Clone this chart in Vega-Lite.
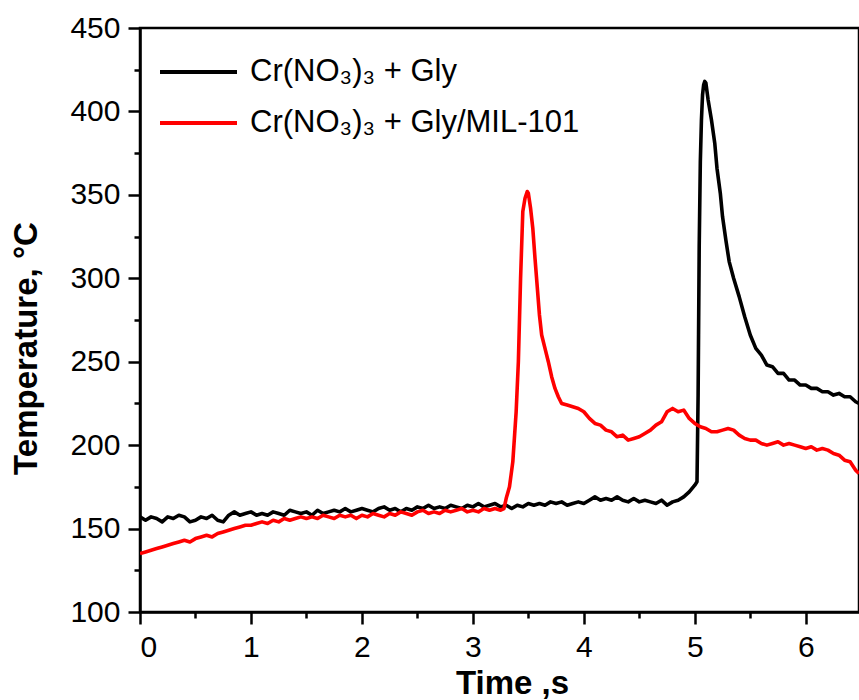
{
  "$schema": "https://vega.github.io/schema/vega-lite/v6.json",
  "width": 719,
  "height": 584,
  "autosize": "none",
  "padding": {"left": 140, "top": 28, "right": 0, "bottom": 88},
  "background": "white",
  "config": {
    "view": {"stroke": "black", "strokeWidth": 2.5},
    "font": "Liberation Sans"
  },
  "datasets": {
    "gly": [
      [0.00,157],[0.05,155],[0.10,157],[0.15,156],[0.20,154],[0.25,157],[0.30,156],[0.35,158],[0.40,157],[0.45,154],
      [0.50,155],[0.55,157],[0.60,156],[0.65,158],[0.70,155],[0.75,154],[0.80,158],[0.85,160],[0.90,158],[0.95,159],
      [1.00,160],[1.05,158],[1.10,159],[1.15,158],[1.20,160],[1.25,159],[1.30,158],[1.35,161],[1.40,160],[1.45,159],
      [1.50,160],[1.55,158],[1.60,161],[1.65,159],[1.70,160],[1.75,161],[1.80,160],[1.85,162],[1.90,160],[1.95,161],
      [2.00,162],[2.05,161],[2.10,160],[2.15,162],[2.20,163],[2.25,161],[2.30,162],[2.35,160],[2.40,162],[2.45,161],
      [2.50,163],[2.55,162],[2.60,164],[2.65,162],[2.70,163],[2.75,162],[2.80,164],[2.85,163],[2.90,162],[2.95,164],
      [3.00,163],[3.05,165],[3.10,163],[3.15,164],[3.20,165],[3.25,163],[3.30,164],[3.35,162],[3.40,164],[3.45,163],
      [3.50,165],[3.55,164],[3.60,165],[3.65,164],[3.70,166],[3.75,165],[3.80,166],[3.85,164],[3.90,165],[3.95,166],
      [4.00,165],[4.05,167],[4.10,169],[4.15,167],[4.20,168],[4.25,167],[4.30,169],[4.35,167],[4.40,166],[4.45,168],
      [4.50,166],[4.55,167],[4.60,166],[4.65,165],[4.70,167],[4.75,164],[4.80,166],[4.85,167],[4.90,169],[4.95,172],
      [5.00,176],[5.02,178],[5.03,230],[5.04,320],[5.05,370],[5.06,395],[5.07,410],[5.08,416],[5.09,418],[5.10,417],
      [5.12,407],[5.15,395],[5.18,381],[5.20,366],[5.23,351],[5.25,337],[5.28,323],[5.31,310],[5.35,300],[5.40,289],
      [5.45,277],[5.50,266],[5.55,258],[5.60,254],[5.65,248],[5.70,247],[5.75,243],[5.80,243],[5.85,239],[5.90,239],
      [5.95,236],[6.00,236],[6.05,234],[6.10,234],[6.15,232],[6.20,232],[6.25,230],[6.30,231],[6.35,229],[6.40,229],
      [6.45,226],[6.48,225]
    ],
    "mil": [
      [0.00,135],[0.05,136],[0.10,137],[0.15,138],[0.20,139],[0.25,140],[0.30,141],[0.35,142],[0.40,143],[0.45,142],
      [0.50,144],[0.55,145],[0.60,146],[0.65,145],[0.70,147],[0.75,148],[0.80,149],[0.85,150],[0.90,151],[0.95,152],
      [1.00,152],[1.05,153],[1.10,154],[1.15,153],[1.20,155],[1.25,154],[1.30,156],[1.35,155],[1.40,156],[1.45,157],
      [1.50,156],[1.55,157],[1.60,156],[1.65,158],[1.70,157],[1.75,156],[1.80,158],[1.85,157],[1.90,158],[1.95,156],
      [2.00,158],[2.05,157],[2.10,159],[2.15,158],[2.20,157],[2.25,159],[2.30,158],[2.35,160],[2.40,159],[2.45,158],
      [2.50,160],[2.55,161],[2.60,159],[2.65,160],[2.70,159],[2.75,161],[2.80,160],[2.85,161],[2.90,162],[2.95,160],
      [3.00,161],[3.05,160],[3.10,162],[3.15,161],[3.20,162],[3.25,161],[3.28,162],[3.30,168],[3.33,175],[3.36,190],
      [3.39,220],[3.41,250],[3.43,300],[3.45,340],[3.47,348],[3.49,352],[3.50,351],[3.52,342],[3.54,330],[3.56,312],
      [3.58,295],[3.60,278],[3.62,266],[3.65,258],[3.68,250],[3.71,241],[3.74,234],[3.77,229],[3.80,225],[3.85,224],
      [3.90,223],[3.95,222],[4.00,220],[4.05,216],[4.10,213],[4.15,212],[4.20,209],[4.25,208],[4.30,205],[4.35,206],
      [4.40,203],[4.45,204],[4.50,205],[4.55,207],[4.60,209],[4.65,212],[4.70,214],[4.75,220],[4.80,222],[4.85,220],
      [4.90,221],[4.95,216],[5.00,213],[5.05,211],[5.10,210],[5.15,208],[5.20,208],[5.25,209],[5.30,210],[5.35,209],
      [5.40,206],[5.45,204],[5.50,203],[5.55,203],[5.60,201],[5.65,200],[5.70,201],[5.75,202],[5.80,200],[5.85,201],
      [5.90,200],[5.95,199],[6.00,198],[6.05,199],[6.10,197],[6.15,198],[6.20,197],[6.25,195],[6.30,194],[6.35,191],
      [6.40,190],[6.45,185],[6.48,183]
    ]
  },
  "layer": [
    {
      "data": {"name": "gly"},
      "transform": [
        {"calculate": "datum[0]", "as": "time"},
        {"calculate": "datum[1]", "as": "temp"},
        {"calculate": "'Cr(NO₃)₃ + Gly'", "as": "series"}
      ],
      "mark": {"type": "line", "strokeWidth": 3.6, "strokeJoin": "round", "clip": true},
      "encoding": {
        "x": {"field": "time", "type": "quantitative"},
        "y": {"field": "temp", "type": "quantitative"},
        "color": {"field": "series", "type": "nominal"}
      }
    },
    {
      "data": {"name": "mil"},
      "transform": [
        {"calculate": "datum[0]", "as": "time"},
        {"calculate": "datum[1]", "as": "temp"},
        {"calculate": "'Cr(NO₃)₃ + Gly/MIL-101'", "as": "series"}
      ],
      "mark": {"type": "line", "strokeWidth": 3.6, "strokeJoin": "round", "clip": true},
      "encoding": {
        "x": {
          "field": "time", "type": "quantitative",
          "scale": {"domain": [0, 6.48], "nice": false, "zero": false},
          "axis": {
            "title": "Time ,s",
            "values": [0,0.5,1,1.5,2,2.5,3,3.5,4,4.5,5,5.5,6],
            "labelExpr": "datum.value % 1 === 0 ? format(datum.value, 'd') : ''",
            "tickSize": {"condition": {"test": "datum.value % 1 !== 0", "value": 6}, "value": 12},
            "tickWidth": 2.5, "tickColor": "black",
            "domainColor": "black", "domainWidth": 2.5,
            "grid": false,
            "labelFontSize": 30, "labelColor": "black", "labelPadding": 8,
            "labelFont": "Liberation Sans",
            "titleFont": "Liberation Sans", "titleFontSize": 33, "titleFontWeight": "bold", "titleColor": "black",
            "titleX": 372, "titleY": 81, "titleAlign": "center", "titleBaseline": "alphabetic"
          }
        },
        "y": {
          "field": "temp", "type": "quantitative",
          "scale": {"domain": [100, 450], "nice": false, "zero": false},
          "axis": {
            "title": "Temperature, °C",
            "values": [100,125,150,175,200,225,250,275,300,325,350,375,400,425,450],
            "labelExpr": "datum.value % 50 === 0 ? datum.label : ''",
            "tickSize": {"condition": {"test": "datum.value % 50 !== 0", "value": 6}, "value": 12},
            "tickWidth": 2.5, "tickColor": "black",
            "domainColor": "black", "domainWidth": 2.5,
            "grid": false,
            "labelFontSize": 30, "labelColor": "black", "labelPadding": 8,
            "labelFont": "Liberation Sans",
            "titleFont": "Liberation Sans", "titleFontSize": 33, "titleFontWeight": "bold", "titleColor": "black",
            "titleX": -104, "titleY": 320, "titleAlign": "center", "titleBaseline": "alphabetic", "titleAngle": -90
          }
        },
        "color": {
          "field": "series", "type": "nominal",
          "scale": {"domain": ["Cr(NO₃)₃ + Gly", "Cr(NO₃)₃ + Gly/MIL-101"], "range": ["#000000", "#ff0000"]},
          "legend": {
            "title": null,
            "orient": "none", "legendX": 18, "legendY": 29,
            "symbolType": "stroke", "symbolSize": 5929, "symbolStrokeWidth": 4,
            "labelFontSize": 31, "labelFont": "Liberation Sans", "labelColor": "black", "labelOffset": 11,
            "clipHeight": 30, "rowPadding": 20, "padding": 0, "labelLimit": 500
          }
        }
      }
    }
  ]
}
